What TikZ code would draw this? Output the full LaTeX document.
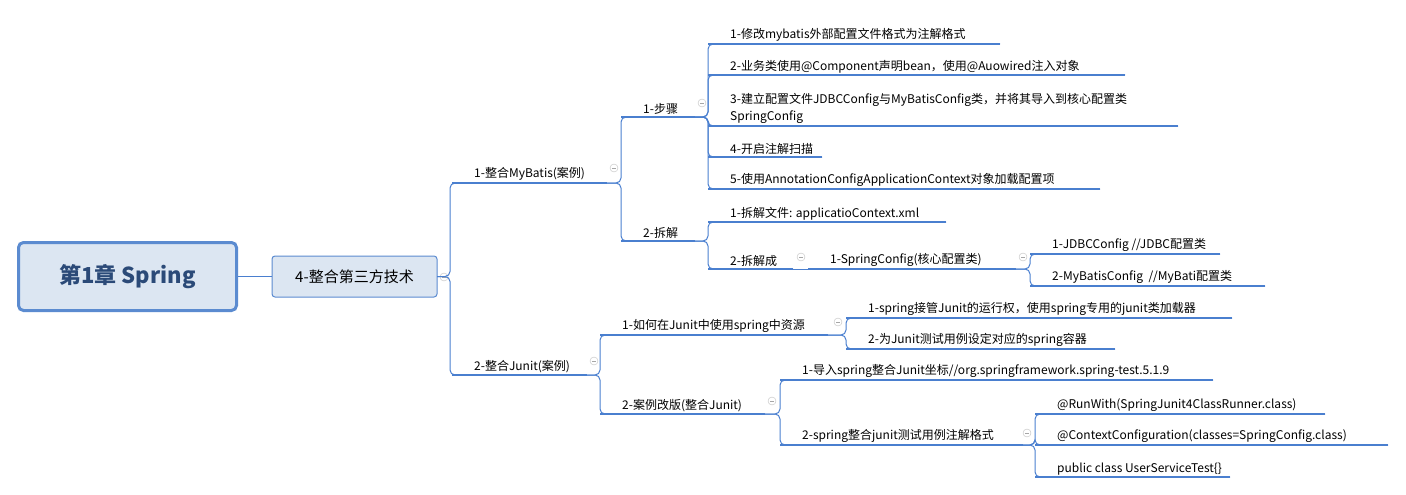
\documentclass[tikz,border=0pt]{standalone}
\usepackage{fontspec}
\setmainfont{Noto Sans CJK SC}
\usetikzlibrary{positioning,calc}
\definecolor{mapline}{HTML}{4A7FCF}
\definecolor{boxfill}{HTML}{DCE6F2}
\definecolor{rootline}{HTML}{5B8BD0}
\definecolor{roottext}{HTML}{2B4A78}
\newcommand\topic[5]{%
  \coordinate (#1-s) at (#2,#3); \coordinate (#1-e) at (#4,#3);
  \node[topic] (#1) at ($(#1-s)+(20,0)$) {#5};
  \draw[uline] (#1-s) -- (#1-e);}
\begin{document}
\begin{tikzpicture}[x=1pt,y=-1pt,
    topic/.style={anchor=south west,inner sep=2pt,align=left,font=\fontsize{12}{17}\selectfont},
    uline/.style={draw=mapline,line width=1.4pt},
    conn/.style={draw=mapline,line width=1pt,rounded corners=5pt},
    fold/.style={circle,draw=gray!50,fill=white,inner sep=0pt,minimum size=8pt,
      path picture={\draw[gray!70] ([xshift=-2pt]path picture bounding box.center) -- ([xshift=2pt]path picture bounding box.center);}},
  ]
\useasboundingbox (0,0) rectangle (1406,495);
% root and main branch
\node[draw=rootline,fill=boxfill,line width=3pt,rounded corners=5pt,minimum width=218pt,minimum height=68pt,
  font=\fontsize{22}{26}\bfseries\selectfont,text=roottext] (root) at (127.5,276.5) {第1章 Spring};
\node[draw=rootline,fill=boxfill,line width=1pt,rounded corners=3pt,minimum width=165pt,minimum height=41pt,
  font=\fontsize{15}{18}\selectfont] (tech) at (354.5,276.5) {4-整合第三方技术};
\draw[mapline,line width=1pt] (root) -- (tech);
\coordinate (tech-e) at (437,276.5);
\node[fold] at (444,277) {};

% level 2
\topic{mb}{452}{183}{607}{1-整合MyBatis(案例)}
\topic{ju}{452}{375}{587}{2-整合Junit(案例)}
\node[fold] at (614,168) {};
\node[fold] at (594,361) {};
\foreach \c in {mb,ju} \draw[conn] (tech-e) -- (450,276.5) |- (\c-s);

% MyBatis
\topic{step}{621}{117}{695}{1-步骤}
\topic{split}{621}{241}{695}{2-拆解}
\node[fold] at (702,103) {};
\foreach \c in {step,split} \draw[conn] (mb-e) -| (\c-s) -- (\c-e);

\topic{s1}{708}{44}{1000}{1-修改mybatis外部配置文件格式为注解格式}
\topic{s2}{708}{75}{1125}{2-业务类使用@Component声明bean，使用@Auowired注入对象}
\topic{s3}{708}{126}{1178}{3-建立配置文件JDBCConfig与MyBatisConfig类，并将其导入到核心配置类\\SpringConfig}
\topic{s4}{708}{157}{822}{4-开启注解扫描}
\topic{s5}{708}{189}{1100}{5-使用AnnotationConfigApplicationContext对象加载配置项}
\foreach \c in {s1,s2,s3,s4,s5} \draw[conn] (step-e) -| (\c-s) -- (\c-e);

\topic{p1}{708}{222}{946}{1-拆解文件: applicatioContext.xml}
\topic{p2}{708}{269}{793}{2-拆解成}
\node[fold] at (801,257) {};
\foreach \c in {p1,p2} \draw[conn] (split-e) -| (\c-s) -- (\c-e);

\topic{sc}{808}{269}{1016}{1-SpringConfig(核心配置类)}
\draw[conn] (p2-e) -- (sc-s);
\node[fold] at (1023,257) {};
\topic{jc}{1030}{254}{1220}{1-JDBCConfig //JDBC配置类}
\topic{mc}{1030}{286}{1265}{2-MyBatisConfig\ \ //MyBati配置类}
\foreach \c in {jc,mc} \draw[conn] (sc-e) -| (\c-s) -- (\c-e);

% Junit
\topic{how}{600}{335}{828}{1-如何在Junit中使用spring中资源}
\topic{rev}{600}{414}{765}{2-案例改版(整合Junit)}
\node[fold] at (838,322) {};
\node[fold] at (772,401) {};
\foreach \c in {how,rev} \draw[conn] (ju-e) -| (\c-s) -- (\c-e);

\topic{h1}{846}{318}{1232}{1-spring接管Junit的运行权，使用spring专用的junit类加载器}
\topic{h2}{846}{349}{1115}{2-为Junit测试用例设定对应的spring容器}
\foreach \c in {h1,h2} \draw[conn] (how-e) -| (\c-s) -- (\c-e);

\topic{r1}{780}{380}{1213}{1-导入spring整合Junit坐标//org.springframework.spring-test.5.1.9}
\topic{r2}{780}{445}{1023}{2-spring整合junit测试用例注解格式}
\node[fold] at (1027,433) {};
\foreach \c in {r1,r2} \draw[conn] (rev-e) -| (\c-s) -- (\c-e);

\topic{a1}{1035}{414}{1325}{@RunWith(SpringJunit4ClassRunner.class)}
\topic{a2}{1035}{445}{1388}{@ContextConfiguration(classes=SpringConfig.class)}
\topic{a3}{1035}{477}{1230}{public class UserServiceTest\{\}}
\foreach \c in {a1,a2,a3} \draw[conn] (r2-e) -| (\c-s) -- (\c-e);
\end{tikzpicture}
\end{document}
